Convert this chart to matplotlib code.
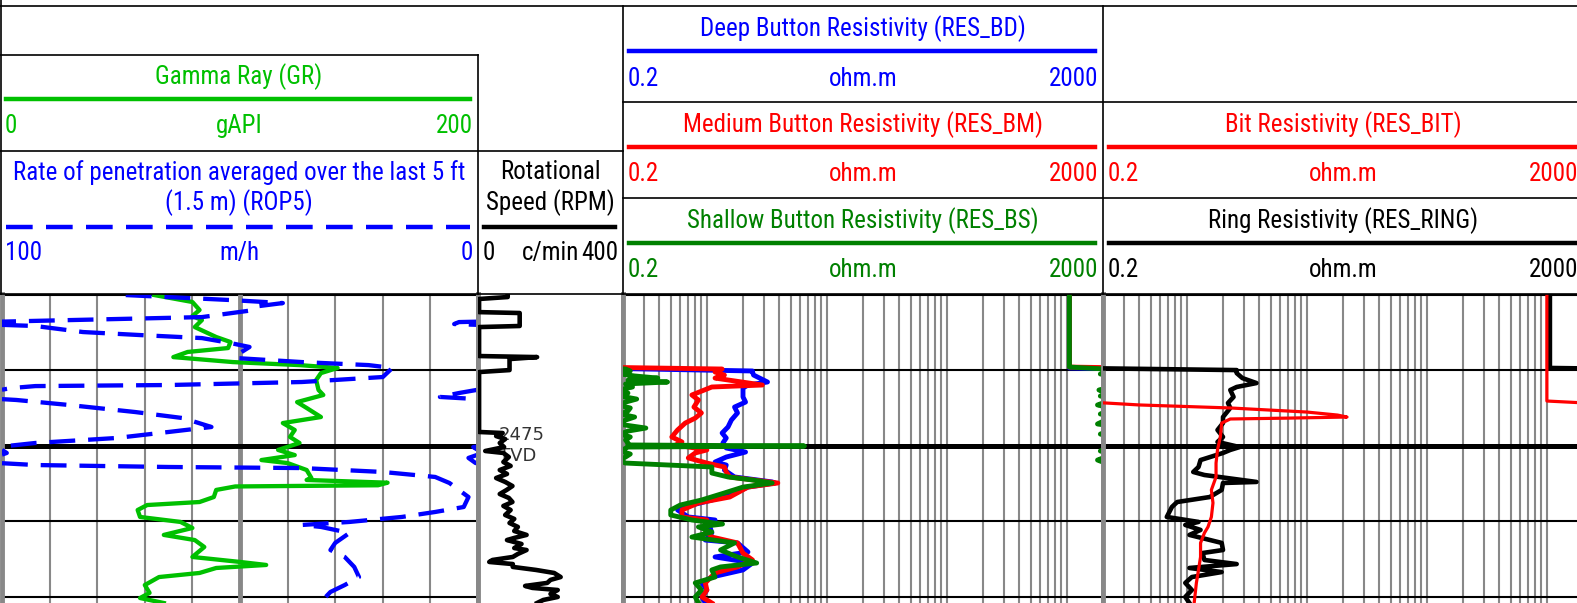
import numpy as np
import matplotlib
matplotlib.use("Agg")
import matplotlib.pyplot as plt
from matplotlib import font_manager
from matplotlib.ticker import NullLocator

# ---- data (depth in m, TVD) ----
GR_DEPTH = [2465.02, 2465.48, 2466.01, 2466.41, 2466.68, 2467.14, 2467.80, 2468.13, 2468.53, 2468.79,
            2469.13, 2469.46, 2469.66, 2469.85, 2470.19, 2470.65, 2471.31, 2471.64, 2472.11, 2472.50,
            2473.10, 2473.50, 2473.96, 2474.42, 2474.82, 2475.28, 2475.62, 2475.95, 2476.15, 2476.61,
            2477.14, 2477.27, 2477.45, 2477.62, 2477.70, 2477.93, 2478.40, 2478.73, 2478.93, 2479.26,
            2479.72, 2480.05, 2480.45, 2480.91, 2481.25, 2481.71, 2482.37, 2482.70, 2482.90, 2483.10,
            2483.43, 2483.70, 2484.23, 2484.75, 2485.09, 2485.42]
GR = [64, 80, 83, 80, 84, 81, 90, 96, 95, 78,
      72, 97, 125, 141, 134, 132, 133, 135, 124, 128,
      134, 118, 123, 121, 125, 116, 123, 109, 120, 128,
      130, 128, 162, 158, 98, 90, 89, 83, 61, 57,
      58, 75, 80, 68, 81, 85, 80, 100, 111, 90,
      83, 66, 60, 62, 58, 68]

ROP_DEPTH = [2465.02, 2465.35, 2465.55, 2465.75, 2466.01, 2466.48, 2466.68, 2466.81, 2466.94, 2467.07,
             2467.47, 2467.67, 2467.87, 2468.20, 2468.46, 2468.86, 2469.19, 2469.46, 2469.66, 2469.85,
             2470.45, 2470.78, 2470.98, 2471.05, 2471.18, 2471.51, 2471.77, 2471.97, 2472.30, 2472.77,
             2473.17, 2473.76, 2474.09, 2474.49, 2474.82, 2475.09, 2475.48, 2475.81, 2476.15, 2476.28,
             2476.41, 2476.48, 2476.74, 2477.07, 2477.47, 2478.40, 2479.06, 2479.39, 2479.72, 2480.05,
             2480.25, 2480.38, 2480.78, 2481.44, 2481.91, 2482.37, 2483.03, 2483.70, 2484.23, 2484.69,
             2485.35]
ROP5 = [74, 52, 41, 46, 47, 58, 86, 104, 105, 93,
        83, 71, 58, 52, 48, 50, 51, 37, 23, 18,
        20, 37, 65, 93, 98, 104, 108, 97, 86, 72,
        62, 56, 65, 76, 93, 101, 99, 102, 100.5, 93,
        65, 37, 20, 9, 6, 2, 3, 9, 16, 27,
        37, 33, 27, 30, 31, 28, 26, 25, 28, 31,
        33]

RPM_DEPTH = [2464.95, 2465.15, 2465.28, 2466.15, 2466.21, 2467.07, 2467.14, 2469.06, 2469.13, 2469.26,
             2469.99, 2470.12, 2474.09, 2474.16, 2474.36, 2474.56, 2474.82, 2475.09, 2475.35, 2475.48,
             2475.75, 2476.08, 2476.34, 2476.61, 2476.87, 2477.14, 2477.40, 2477.67, 2477.93, 2478.20,
             2478.46, 2478.73, 2478.99, 2479.26, 2479.59, 2479.85, 2480.12, 2480.38, 2480.65, 2480.91,
             2481.11, 2481.25, 2481.51, 2481.78, 2481.91, 2482.17, 2482.37, 2482.57, 2482.70, 2482.84,
             2483.03, 2483.23, 2483.43, 2483.70, 2483.89, 2484.09, 2484.29, 2484.42, 2484.56, 2484.82,
             2485.02, 2485.22, 2485.42]
RPM = [82, 82, 3, 3, 115, 115, 3, 3, 163, 87,
       87, 3, 3, 68, 50, 75, 60, 72, 20, 70,
       85, 70, 90, 60, 80, 50, 75, 95, 79, 60,
       85, 95, 70, 90, 75, 100, 87, 110, 100, 134,
       100, 80, 120, 100, 134, 110, 96, 40, 31, 96,
       96, 160, 210, 228, 200, 191, 130, 150, 220, 200,
       220, 180, 163]

BD_DEPTH = [2464.95, 2469.85, 2470.05, 2470.12, 2470.32, 2470.78, 2470.98, 2471.18, 2471.77, 2472.11,
            2472.44, 2472.83, 2473.30, 2473.76, 2474.16, 2474.49, 2474.82, 2475.15, 2475.42, 2475.75,
            2476.08, 2476.28, 2476.61, 2477.07, 2477.40, 2477.47, 2477.74, 2478.13, 2478.60, 2478.93,
            2479.26, 2479.72, 2479.92, 2480.38, 2480.78, 2481.25, 2481.44, 2482.04, 2482.37, 2482.77,
            2483.23, 2483.70, 2484.09, 2484.56, 2485.02, 2485.42]
RES_BD = [0.105, 0.105, 2.4, 2.4, 2.45, 3.2, 2.2, 2.0, 2.0, 2.1,
          1.7, 1.8, 1.6, 1.5, 1.34, 1.45, 1.36, 1.45, 2.1, 1.45,
          1.17, 1.45, 1.4, 1.7, 3.5, 3.7, 2.2, 1.7, 1.1, 0.75,
          0.57, 0.7, 1.17, 1.06, 1.1, 0.97, 1.8, 2.2, 1.17, 2.4,
          2.0, 1.1, 0.91, 1.0, 0.91, 0.97]

BM_DEPTH = [2464.95, 2469.79, 2469.92, 2470.12, 2470.32, 2470.52, 2470.98, 2471.11, 2471.64, 2471.97,
            2472.44, 2472.83, 2473.17, 2473.50, 2473.96, 2474.42, 2474.75, 2474.95, 2475.28, 2475.48,
            2475.81, 2476.15, 2476.41, 2476.74, 2477.07, 2477.47, 2477.74, 2478.40, 2478.79, 2479.26,
            2479.72, 2479.92, 2480.58, 2481.05, 2481.44, 2482.11, 2482.57, 2483.03, 2483.43, 2484.09,
            2484.56, 2485.02, 2485.42]
RES_BM = [0.105, 0.105, 1.34, 1.17, 1.4, 1.17, 2.9, 1.1, 0.75, 0.85,
          0.78, 0.9, 0.8, 0.66, 0.57, 0.51, 0.62, 0.55, 1.0, 0.8,
          0.7, 1.0, 1.4, 1.45, 1.55, 3.9, 2.2, 1.55, 0.85, 0.62,
          0.62, 1.0, 0.97, 1.1, 1.8, 2.0, 2.4, 1.8, 1.17, 0.97,
          1.0, 0.91, 1.1]

BS_DEPTH = [2464.95, 2469.79, 2469.92, 2470.05, 2470.25, 2470.38, 2470.52, 2470.65, 2470.78, 2470.91,
            2471.11, 2471.31, 2471.51, 2471.71, 2471.91, 2472.11, 2472.30, 2472.50, 2472.70, 2472.90,
            2473.10, 2473.30, 2473.56, 2473.83, 2474.03, 2474.23, 2474.42, 2474.62, 2474.82, 2474.95,
            2475.02, 2475.09, 2475.35, 2475.55, 2475.75, 2475.95, 2476.15, 2476.41, 2476.81, 2477.07,
            2477.27, 2477.47, 2477.74, 2478.13, 2478.60, 2478.93, 2479.26, 2479.59, 2479.92, 2480.19,
            2480.38, 2480.72, 2481.05, 2481.44, 2481.91, 2482.37, 2482.77, 2483.03, 2483.23, 2483.70,
            2484.09, 2484.56, 2485.02, 2485.42]
RES_BS = [0.105, 0.105, 0.21, 0.23, 0.19, 0.25, 0.39, 0.22, 0.47, 0.21,
          0.24, 0.185, 0.22, 0.19, 0.26, 0.21, 0.18, 0.23, 0.22, 0.19,
          0.25, 0.21, 0.18, 0.31, 0.22, 0.19, 0.23, 0.21, 0.22, 0.22,
          6.5, 0.22, 0.19, 0.23, 0.21, 0.18, 0.21, 1.1, 1.1, 1.5,
          2.4, 3.5, 2.0, 1.4, 0.9, 0.6, 0.5, 0.5, 0.75, 1.35,
          0.85, 1.1, 0.75, 1.7, 1.3, 1.8, 2.6, 1.3, 1.1, 1.17,
          0.8, 0.9, 0.8, 0.85]

BIT_DEPTH = [2464.95, 2472.04, 2472.17, 2472.30, 2472.50, 2472.77, 2472.97, 2473.10, 2473.17, 2473.23,
             2473.50, 2474.42, 2475.28, 2476.15, 2477.07, 2477.93, 2478.79, 2479.72, 2480.38, 2480.78,
             2481.44, 2482.37, 2483.23, 2484.09, 2485.42]
RES_BIT = [0.1, 0.1, 0.21, 0.4, 2.3, 10, 18, 21.6, 7.2, 2.3,
           1.95, 1.9, 1.8, 1.75, 1.75, 1.6, 1.65, 1.6, 1.5, 1.4,
           1.3, 1.3, 1.25, 1.2, 1.15]

RING_DEPTH = [2464.95, 2469.85, 2469.99, 2470.19, 2470.52, 2470.85, 2471.11, 2471.31, 2471.77, 2472.17,
              2472.50, 2473.10, 2473.50, 2473.96, 2474.42, 2474.75, 2475.09, 2475.28, 2475.48, 2475.95,
              2476.41, 2476.74, 2476.94, 2477.40, 2477.47, 2477.93, 2478.40, 2478.73, 2479.06, 2479.72,
              2480.05, 2480.25, 2480.58, 2480.91, 2481.44, 2481.91, 2482.11, 2482.57, 2482.84, 2483.10,
              2483.37, 2483.70, 2484.09, 2484.56, 2485.02, 2485.42]
RES_RING = [0.106, 0.106, 2.6, 2.6, 2.9, 3.8, 2.6, 2.3, 2.45, 2.2,
            2.3, 2.0, 2.0, 1.8, 2.0, 1.8, 2.75, 2.3, 2.0, 1.3,
            1.25, 1.13, 1.4, 3.8, 2.0, 1.95, 1.55, 0.83, 0.75, 0.68,
            1.25, 0.97, 1.3, 1.05, 1.95, 2.0, 1.35, 1.4, 2.6, 1.05,
            1.95, 1.1, 0.97, 1.1, 0.97, 1.05]

TOP, BOT = 2464.95, 2485.42
DEPTH_LINES = [2465, 2470, 2475, 2480, 2485]
LOG_GRID = [m * 10.0 ** e for e in range(-1, 4) for m in range(1, 10) if 0.2 <= m * 10.0 ** e <= 2000]

W, H = 1577, 603
GRID = "#888888"

names = {f.name for f in font_manager.fontManager.ttflist}
NARROW = next((f for f in ["Liberation Sans Narrow", "Roboto Condensed", "Arial Narrow"] if f in names),
              "Liberation Sans")
plt.rcParams["font.family"] = [NARROW, "DejaVu Sans"]


def frame(x0, y0, x1, y1):
    return [x0 / W, 1 - y1 / H, (x1 - x0) / W, (y1 - y0) / H]


def wrap_xy(depth, vals, lo, hi, log=False):
    # wrap values that leave the scale back into it, like a log viewer does
    depth = np.asarray(depth, float)
    vals = np.asarray(vals, float)
    r = np.log10(vals / lo) / np.log10(hi / lo) if log else (vals - lo) / (hi - lo)
    k = np.floor(r)

    def back(f):
        return lo * (hi / lo) ** f if log else lo + f * (hi - lo)

    xs, ys = [back(r[0] - k[0])], [depth[0]]
    for i in range(1, len(r)):
        if k[i] != k[i - 1]:
            b = max(k[i], k[i - 1])
            t = (b - r[i - 1]) / (r[i] - r[i - 1])
            yc = depth[i - 1] + t * (depth[i] - depth[i - 1])
            up = k[i] > k[i - 1]
            xs += [back(1.0 if up else 0.0), np.nan, back(0.0 if up else 1.0)]
            ys += [yc, np.nan, yc]
        xs.append(back(r[i] - k[i]))
        ys.append(depth[i])
    return xs, ys


def style_track(ax, hlines=True):
    ax.set_ylim(BOT, TOP)
    ax.tick_params(length=0, labelleft=False, labelbottom=False, labeltop=False)
    ax.spines["top"].set_visible(False)
    ax.spines["bottom"].set_visible(False)
    for s in ["left", "right"]:
        ax.spines[s].set_color(GRID)
        ax.spines[s].set_linewidth(3.5)
    ax.set_axisbelow(True)
    if hlines:
        ax.set_yticks(DEPTH_LINES)
        ax.grid(axis="y", color="black", lw=1.5)
        ax.axhline(2475, color="black", lw=3.6, zorder=0.8)
    else:
        ax.set_yticks([])


fig = plt.figure(figsize=(W / 100, H / 100), dpi=100)

# track 1: GR + ROP5
ax_gr = fig.add_axes(frame(2, 294, 478, 603))
style_track(ax_gr)
ax_gr.set_xlim(0, 200)
ax_gr.set_xticks(np.arange(0, 201, 20))
ax_gr.grid(axis="x", color=GRID, lw=1.5)
ax_gr.axvline(100, color=GRID, lw=3.5, zorder=0.6)
ax_gr.plot(GR, GR_DEPTH, color="#00c000", lw=3.1, zorder=3)

ax_rop = ax_gr.twiny()
ax_rop.set_xlim(100, 0)
ax_rop.set_ylim(BOT, TOP)
ax_rop.axis("off")
xs, ys = wrap_xy(ROP_DEPTH, ROP5, 0, 100)
ax_rop.plot(xs, ys, color="#0000ff", lw=3.1, dashes=(6, 3), zorder=2)

# track 2: RPM
ax_rpm = fig.add_axes(frame(478, 294, 623, 603))
style_track(ax_rpm, hlines=False)
ax_rpm.set_xlim(0, 400)
ax_rpm.set_xticks([])
ax_rpm.plot(RPM, RPM_DEPTH, color="black", lw=3.3, zorder=3)
ax_rpm.text(0.145, 2475, "2475\nTVD", transform=ax_rpm.get_yaxis_transform(), ha="left", va="center",
            fontsize=13, family="DejaVu Sans", color="#333333", zorder=1.5)

# track 3: button resistivities
ax_res = fig.add_axes(frame(623, 294, 1103, 603))
ax_res.set_xscale("log")
style_track(ax_res)
ax_res.set_xlim(0.2, 2000)
ax_res.set_xticks(LOG_GRID)
ax_res.xaxis.set_minor_locator(NullLocator())
ax_res.grid(axis="x", color=GRID, lw=1.5)
for d, v, c in [(BD_DEPTH, RES_BD, "#0000ff"), (BM_DEPTH, RES_BM, "#ff0000"), (BS_DEPTH, RES_BS, "#008000")]:
    xs, ys = wrap_xy(d, v, 0.2, 2000, log=True)
    ax_res.plot(xs, ys, color=c, lw=3.5, zorder=3)

# track 4: bit / ring resistivity (runs past the right edge)
ax_bit = fig.add_axes(frame(1103, 294, 1583, 603))
ax_bit.set_xscale("log")
style_track(ax_bit)
ax_bit.set_xlim(0.2, 2000)
ax_bit.set_xticks(LOG_GRID)
ax_bit.xaxis.set_minor_locator(NullLocator())
ax_bit.grid(axis="x", color=GRID, lw=1.5)
xs, ys = wrap_xy(RING_DEPTH, RES_RING, 0.2, 2000, log=True)
ax_bit.plot(xs, ys, color="black", lw=3.3, zorder=3)
xs, ys = wrap_xy(BIT_DEPTH, RES_BIT, 0.2, 2000, log=True)
ax_bit.plot(xs, ys, color="#ff0000", lw=2.3, zorder=3)

# header, drawn in pixel coordinates
hdr = fig.add_axes([0, 0, 1, 1], zorder=5)
hdr.set_xlim(0, W)
hdr.set_ylim(H, 0)
hdr.axis("off")
hdr.patch.set_alpha(0)
lk = dict(color="black", lw=1.2)
hdr.plot([0, W], [6, 6], **lk)
hdr.plot([0, 478], [55, 55], **lk)
hdr.plot([0, 623], [151, 151], **lk)
hdr.plot([623, W], [102, 102], **lk)
hdr.plot([623, W], [198, 198], **lk)
hdr.plot([0, W], [294, 294], **lk)
hdr.plot([0.7, 0.7], [0, 294], **lk)
hdr.plot([478, 478], [55, 294], **lk)
hdr.plot([623, 623], [6, 294], **lk)
hdr.plot([1103, 1103], [6, 294], **lk)

FS = 18


def cell(x0, x1, yt, yl, yb, title, unit, lo, hi, color, dashes=None):
    cx = (x0 + x1) / 2
    hdr.text(cx, yt, title, ha="center", va="center", color=color, fontsize=FS, linespacing=1.2)
    kw = dict(dashes=(6, 3)) if dashes else {}
    hdr.plot([x0 + 6, x1 - 8], [yl, yl], color=color, lw=3.2, **kw)
    hdr.text(x0 + 5, yb, lo, ha="left", va="center", color=color, fontsize=FS)
    hdr.text(cx, yb, unit, ha="center", va="center", color=color, fontsize=FS)
    hdr.text(x1 - 5, yb, hi, ha="right", va="center", color=color, fontsize=FS)


cell(0, 478, 77, 99, 126, "Gamma Ray (GR)", "gAPI", "0", "200", "#00c000")
cell(0, 478, 188, 227, 253, "Rate of penetration averaged over the last 5 ft\n(1.5 m) (ROP5)", "m/h",
     "100", "0", "#0000ff", dashes=True)
cell(478, 623, 188, 227, 253, "Rotational\nSpeed (RPM)", "c/min", "0", "400", "black")
cell(623, 1103, 29, 51, 79, "Deep Button Resistivity (RES_BD)", "ohm.m", "0.2", "2000", "#0000ff")
cell(623, 1103, 125, 147, 174, "Medium Button Resistivity (RES_BM)", "ohm.m", "0.2", "2000", "#ff0000")
cell(623, 1103, 221, 243, 270, "Shallow Button Resistivity (RES_BS)", "ohm.m", "0.2", "2000", "#008000")
cell(1103, 1583, 125, 147, 174, "Bit Resistivity (RES_BIT)", "ohm.m", "0.2", "2000", "#ff0000")
cell(1103, 1583, 221, 243, 270, "Ring Resistivity (RES_RING)", "ohm.m", "0.2", "2000", "black")

fig.savefig("out.png", dpi=100)
